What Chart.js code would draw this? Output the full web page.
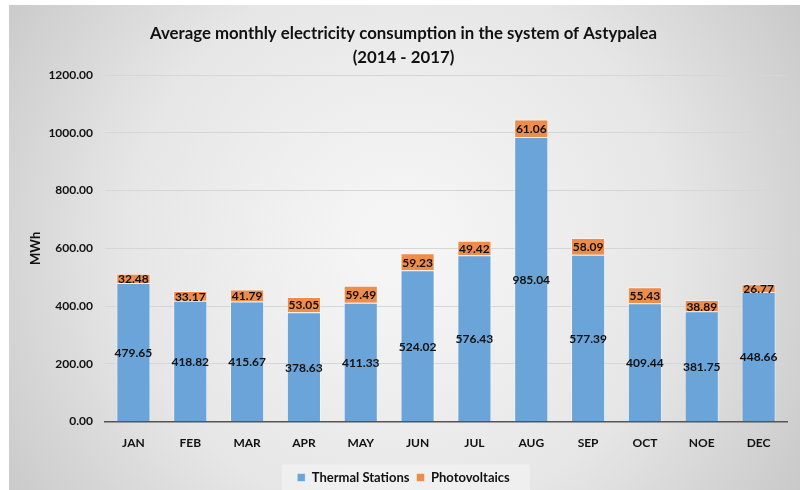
<!DOCTYPE html>
<html>
<head>
<meta charset="utf-8">
<script src="https://cdn.jsdelivr.net/npm/chart.js@4.4.1/dist/chart.umd.min.js"></script>
<style>
  html, body { margin: 0; padding: 0; background: #fff; }
  #wrap { width: 800px; height: 490px; }
</style>
</head>
<body>
<div id="wrap"><canvas id="consumption" width="800" height="490"></canvas></div>
<script>
const months = ['JAN', 'FEB', 'MAR', 'APR', 'MAY', 'JUN', 'JUL', 'AUG', 'SEP', 'OCT', 'NOE', 'DEC'];
const thermal = [479.65, 418.82, 415.67, 378.63, 411.33, 524.02, 576.43, 985.04, 577.39, 409.44, 381.75, 448.66];
const photovoltaics = [32.48, 33.17, 41.79, 53.05, 59.49, 59.23, 49.42, 61.06, 58.09, 55.43, 38.89, 26.77];

const FONT = 'Lato, "Open Sans", sans-serif';

// grey radial backdrop + lighter strip behind the legend
const backdrop = {
    id: 'backdrop',
    beforeDraw(chart) {
        const ctx = chart.ctx;
        const w = chart.width, h = chart.height;
        ctx.save();
        ctx.fillStyle = '#ffffff';
        ctx.fillRect(0, 0, w, h);
        const g = ctx.createRadialGradient(w / 2, h / 2, 40, w / 2, h / 2, 470);
        g.addColorStop(0, '#f5f5f5');
        g.addColorStop(0.55, '#e6e6e6');
        g.addColorStop(1, '#c9c9c9');
        ctx.fillStyle = g;
        ctx.fillRect(9, 5, w - 9, h - 5);
        const lg = chart.legend;
        if (lg && lg.legendHitBoxes.length) {
            const cy = lg.legendHitBoxes[0].top + lg.legendHitBoxes[0].height / 2;
            ctx.fillStyle = 'rgba(255,255,255,0.35)';
            ctx.fillRect(282, cy - 13, 248, 26);
        }
        ctx.restore();
    }
};

// value written in the middle of each stacked segment
const segmentLabels = {
    id: 'segmentLabels',
    afterDatasetsDraw(chart) {
        const ctx = chart.ctx;
        ctx.save();
        ctx.font = 'bold 12px ' + FONT;
        ctx.fillStyle = '#111';
        ctx.textAlign = 'center';
        ctx.textBaseline = 'middle';
        chart.data.datasets.forEach((ds, i) => {
            const meta = chart.getDatasetMeta(i);
            meta.data.forEach((bar, j) => {
                const p = bar.getProps(['x', 'y', 'base'], true);
                ctx.fillText(ds.data[j].toFixed(2), p.x, (p.y + p.base) / 2 + 1);
            });
        });
        ctx.restore();
    }
};

new Chart(document.getElementById('consumption'), {
    type: 'bar',
    data: {
        labels: months,
        datasets: [
            {
                label: 'Thermal Stations',
                data: thermal,
                backgroundColor: '#6aa4d9',
                borderColor: 'rgba(255,255,255,0.45)',
                borderWidth: 1,
                barPercentage: 0.6,
                categoryPercentage: 1
            },
            {
                label: 'Photovoltaics',
                data: photovoltaics,
                backgroundColor: '#ee8c4a',
                borderColor: 'rgba(255,255,255,0.45)',
                borderWidth: 1,
                barPercentage: 0.6,
                categoryPercentage: 1
            }
        ]
    },
    options: {
        responsive: false,
        animation: false,
        layout: { padding: { left: 20, right: 13, top: 16, bottom: -4 } },
        plugins: {
            title: {
                display: true,
                text: ['Average monthly electricity consumption in the system of Astypalea', '(2014 - 2017)'],
                color: '#111',
                font: { family: FONT, size: 16.8, weight: 'bold', lineHeight: 1.4 },
                padding: { top: 6, bottom: 6 }
            },
            legend: {
                position: 'bottom',
                labels: {
                    color: '#111',
                    font: { family: FONT, size: 13, weight: 'bold' },
                    boxWidth: 8,
                    boxHeight: 8,
                    padding: 7
                }
            },
            tooltip: { enabled: false }
        },
        scales: {
            x: {
                stacked: true,
                grid: { display: false, drawTicks: false },
                border: { display: true, color: '#555', width: 1.5 },
                ticks: { color: '#111', font: { family: FONT, size: 12, weight: 'bold' }, padding: 14 }
            },
            y: {
                stacked: true,
                min: 0,
                max: 1200,
                afterFit(scale) { scale.width = 85; },
                grid: { color: '#d6d6d6', drawTicks: false },
                border: { display: false },
                ticks: {
                    stepSize: 200,
                    padding: 12,
                    color: '#111',
                    font: { family: FONT, size: 12, weight: 'bold' },
                    callback: v => v.toFixed(2)
                },
                title: {
                    display: true,
                    text: 'MWh',
                    color: '#111',
                    font: { family: FONT, size: 13, weight: 'bold' },
                    padding: { top: 8, bottom: 0 }
                }
            }
        }
    },
    plugins: [backdrop, segmentLabels]
});
</script>
</body>
</html>
